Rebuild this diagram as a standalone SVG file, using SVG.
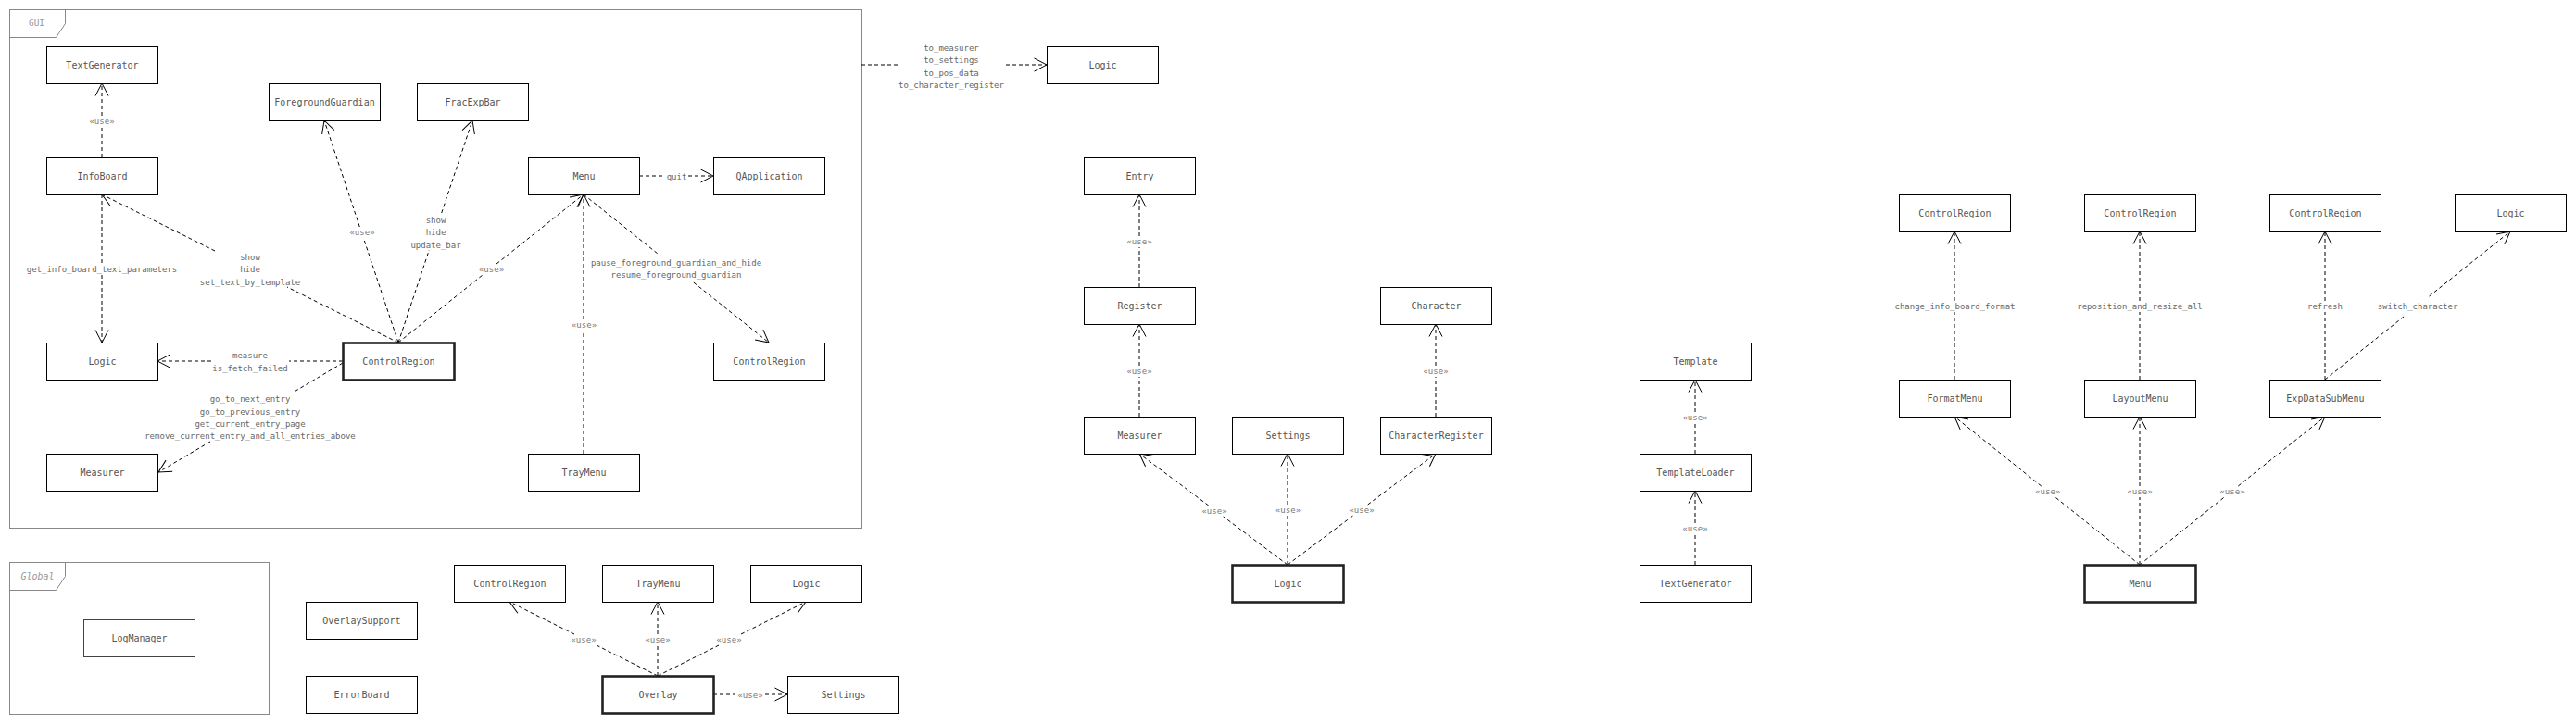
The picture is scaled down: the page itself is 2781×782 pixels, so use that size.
<svg xmlns="http://www.w3.org/2000/svg" width="2781" height="782" viewBox="0 0 2781 782">
<style>
.bg{fill:#fff}
.frame{fill:none;stroke:#888;stroke-width:1}
.ftxt{font-family:"DejaVu Sans Mono","Liberation Mono",monospace;fill:#999}
.box rect{fill:#fff;stroke:#000;stroke-width:1}
.bold rect{fill:#fff;stroke:#222;stroke-width:2.6}
.box text,.bold text{font-family:"DejaVu Sans Mono","Liberation Mono",monospace;font-size:10px;fill:#555;text-anchor:middle}
.edge{fill:none;stroke:#000;stroke-width:1;stroke-dasharray:4,3;marker-end:url(#open)}
.lbl{font-family:"DejaVu Sans Mono","Liberation Mono",monospace;font-size:9px;fill:#666;text-anchor:middle}
.use{fill:#777}
</style>
<defs>
<marker id="open" markerUnits="userSpaceOnUse" viewBox="-15 -10 20 20" refX="0" refY="0" markerWidth="20" markerHeight="20" orient="auto">
<path d="M-13.5 -7 L0 0 L-13.5 7" fill="none" stroke="#000" stroke-width="1"/>
</marker>
</defs>
<rect class="bg" x="0" y="0" width="2781" height="782"/>

<g id="frame-gui">
<rect class="frame" x="10.5" y="10.5" width="920" height="560"/>
<path class="frame" d="M10.5 40.5 H60.5 L70.5 25.5 V10.5"/>
<text class="ftxt" x="39.5" y="28.3" font-size="9.5" text-anchor="middle">GUI</text>
</g>
<g id="frame-global">
<rect class="frame" x="10.5" y="607.5" width="280" height="164"/>
<path class="frame" d="M10.5 637.5 H60.5 L70.5 622.5 V607.5"/>
<text class="ftxt" x="40.5" y="626" font-size="10" font-style="italic" text-anchor="middle">Global</text>
</g>

<g id="connectors">
<path class="edge" d="M110 170 V137 M110 125 V90"/>
<path class="edge" d="M110 210 V285 M110 297 V370"/>
<path class="edge" d="M430 370 L310 310 M232 271 L110 210"/>
<path class="edge" d="M430 370 L392.7 258 M388.3 245 L350 130"/>
<path class="edge" d="M430 370 L463.3 270 M476.7 230 L510 130"/>
<path class="edge" d="M430 370 L521 297 M536 285 L630 210"/>
<path class="edge" d="M630 490 V357 M630 345 V210"/>
<path class="edge" d="M630 210 L712.5 276 M748.75 305 L830 370"/>
<path class="edge" d="M690 190 H718 M743 190 H770"/>
<path class="edge" d="M370 390 H312 M228 390 H170"/>
<path class="edge" d="M370 392 L316 424 M227 477 L171 510"/>
<path class="edge" d="M930 70 H969 M1086 70 H1130"/>
<path class="edge" d="M1230 310 V267 M1230 255 V210"/>
<path class="edge" d="M1230 450 V407 M1230 395 V350"/>
<path class="edge" d="M1550 450 V407 M1550 395 V350"/>
<path class="edge" d="M1390 610 L1320.7 558 M1304.7 546 L1230 490"/>
<path class="edge" d="M1390 610 V557 M1390 545 V490"/>
<path class="edge" d="M1390 610 L1460.7 557 M1476.7 545 L1550 490"/>
<path class="edge" d="M1830 490 V457 M1830 445 V410"/>
<path class="edge" d="M1830 610 V577 M1830 565 V530"/>
<path class="edge" d="M2110 410 V337 M2110 325 V250"/>
<path class="edge" d="M2310 410 V337 M2310 325 V250"/>
<path class="edge" d="M2510 410 V337 M2510 325 V250"/>
<path class="edge" d="M2510 410 L2597.5 340 M2622.5 320 L2710 250"/>
<path class="edge" d="M2310 610 L2218.75 537 M2203.75 525 L2110 450"/>
<path class="edge" d="M2310 610 V537 M2310 525 V450"/>
<path class="edge" d="M2310 610 L2401.25 537 M2416.25 525 L2510 450"/>
<path class="edge" d="M710 730 L644 697 M620 685 L550 650"/>
<path class="edge" d="M710 730 V697 M710 685 V650"/>
<path class="edge" d="M710 730 L776 697 M800 685 L870 650"/>
<path class="edge" d="M770 750 H794 M826 750 H850"/>

<text class="lbl use" x="110" y="134.2">«use»</text>
<text class="lbl" x="110" y="294.2">get_info_board_text_parameters</text>
<text class="lbl" x="270" y="280.9">show</text>
<text class="lbl" x="270" y="294.2">hide</text>
<text class="lbl" x="270" y="307.5">set_text_by_template</text>
<text class="lbl use" x="391" y="254.2">«use»</text>
<text class="lbl" x="470.5" y="240.9">show</text>
<text class="lbl" x="470.5" y="254.2">hide</text>
<text class="lbl" x="470.5" y="267.5">update_bar</text>
<text class="lbl use" x="530.5" y="294.2">«use»</text>
<text class="lbl use" x="630.5" y="354.2">«use»</text>
<text class="lbl" x="730" y="286.9">pause_foreground_guardian_and_hide</text>
<text class="lbl" x="730" y="300.2">resume_foreground_guardian</text>
<text class="lbl" x="730.5" y="193.7">quit</text>
<text class="lbl" x="270" y="387.2">measure</text>
<text class="lbl" x="270" y="400.9">is_fetch_failed</text>
<text class="lbl" x="270" y="434.2">go_to_next_entry</text>
<text class="lbl" x="270" y="447.5">go_to_previous_entry</text>
<text class="lbl" x="270" y="460.9">get_current_entry_page</text>
<text class="lbl" x="270" y="474.2">remove_current_entry_and_all_entries_above</text>
<text class="lbl" x="1027" y="54.9">to_measurer</text>
<text class="lbl" x="1027" y="68.2">to_settings</text>
<text class="lbl" x="1027" y="81.5">to_pos_data</text>
<text class="lbl" x="1027" y="94.8">to_character_register</text>
<text class="lbl use" x="1230" y="264.2">«use»</text>
<text class="lbl use" x="1230" y="404.2">«use»</text>
<text class="lbl use" x="1550" y="404.2">«use»</text>
<text class="lbl use" x="1311" y="555.2">«use»</text>
<text class="lbl use" x="1390.5" y="554.2">«use»</text>
<text class="lbl use" x="1470" y="554.2">«use»</text>
<text class="lbl use" x="1830" y="454.2">«use»</text>
<text class="lbl use" x="1830" y="574.2">«use»</text>
<text class="lbl" x="2110.5" y="334.2">change_info_board_format</text>
<text class="lbl" x="2310" y="334.2">reposition_and_resize_all</text>
<text class="lbl" x="2510" y="334.2">refresh</text>
<text class="lbl" x="2610" y="334.2">switch_character</text>
<text class="lbl use" x="2210.7" y="534.2">«use»</text>
<text class="lbl use" x="2310" y="534.2">«use»</text>
<text class="lbl use" x="2410" y="534.2">«use»</text>
<text class="lbl use" x="630" y="694.2">«use»</text>
<text class="lbl use" x="710" y="694.2">«use»</text>
<text class="lbl use" x="787" y="694.2">«use»</text>
<text class="lbl use" x="810" y="753.9">«use»</text>
</g>

<g id="n_gui_textgen" class="box"><rect x="50.5" y="50.5" width="120" height="40"/><text x="110.5" y="74.1">TextGenerator</text></g>
<g id="n_gui_fg" class="box"><rect x="290.5" y="90.5" width="120" height="40"/><text x="350.5" y="114.1">ForegroundGuardian</text></g>
<g id="n_gui_frac" class="box"><rect x="450.5" y="90.5" width="120" height="40"/><text x="510.5" y="114.1">FracExpBar</text></g>
<g id="n_gui_infoboard" class="box"><rect x="50.5" y="170.5" width="120" height="40"/><text x="110.5" y="194.1">InfoBoard</text></g>
<g id="n_gui_menu" class="box"><rect x="570.5" y="170.5" width="120" height="40"/><text x="630.5" y="194.1">Menu</text></g>
<g id="n_gui_qapp" class="box"><rect x="770.5" y="170.5" width="120" height="40"/><text x="830.5" y="194.1">QApplication</text></g>
<g id="n_gui_logic" class="box"><rect x="50.5" y="370.5" width="120" height="40"/><text x="110.5" y="394.1">Logic</text></g>
<g id="n_gui_cr" class="bold"><rect x="370.5" y="370.5" width="120" height="40"/><text x="430.5" y="394.1">ControlRegion</text></g>
<g id="n_gui_cr2" class="box"><rect x="770.5" y="370.5" width="120" height="40"/><text x="830.5" y="394.1">ControlRegion</text></g>
<g id="n_gui_measurer" class="box"><rect x="50.5" y="490.5" width="120" height="40"/><text x="110.5" y="514.1">Measurer</text></g>
<g id="n_gui_traymenu" class="box"><rect x="570.5" y="490.5" width="120" height="40"/><text x="630.5" y="514.1">TrayMenu</text></g>

<g id="n_logic_ext" class="box"><rect x="1130.5" y="50.5" width="120" height="40"/><text x="1190.5" y="74.1">Logic</text></g>
<g id="n_entry" class="box"><rect x="1170.5" y="170.5" width="120" height="40"/><text x="1230.5" y="194.1">Entry</text></g>
<g id="n_register" class="box"><rect x="1170.5" y="310.5" width="120" height="40"/><text x="1230.5" y="334.1">Register</text></g>
<g id="n_character" class="box"><rect x="1490.5" y="310.5" width="120" height="40"/><text x="1550.5" y="334.1">Character</text></g>
<g id="n_measurer" class="box"><rect x="1170.5" y="450.5" width="120" height="40"/><text x="1230.5" y="474.1">Measurer</text></g>
<g id="n_settings" class="box"><rect x="1330.5" y="450.5" width="120" height="40"/><text x="1390.5" y="474.1">Settings</text></g>
<g id="n_charreg" class="box"><rect x="1490.5" y="450.5" width="120" height="40"/><text x="1550.5" y="474.1">CharacterRegister</text></g>
<g id="n_logic" class="bold"><rect x="1330.5" y="610.5" width="120" height="40"/><text x="1390.5" y="634.1">Logic</text></g>

<g id="n_template" class="box"><rect x="1770.5" y="370.5" width="120" height="40"/><text x="1830.5" y="394.1">Template</text></g>
<g id="n_tloader" class="box"><rect x="1770.5" y="490.5" width="120" height="40"/><text x="1830.5" y="514.1">TemplateLoader</text></g>
<g id="n_textgen" class="box"><rect x="1770.5" y="610.5" width="120" height="40"/><text x="1830.5" y="634.1">TextGenerator</text></g>

<g id="n_m_cr1" class="box"><rect x="2050.5" y="210.5" width="120" height="40"/><text x="2110.5" y="234.1">ControlRegion</text></g>
<g id="n_m_cr2" class="box"><rect x="2250.5" y="210.5" width="120" height="40"/><text x="2310.5" y="234.1">ControlRegion</text></g>
<g id="n_m_cr3" class="box"><rect x="2450.5" y="210.5" width="120" height="40"/><text x="2510.5" y="234.1">ControlRegion</text></g>
<g id="n_m_logic" class="box"><rect x="2650.5" y="210.5" width="120" height="40"/><text x="2710.5" y="234.1">Logic</text></g>
<g id="n_formatmenu" class="box"><rect x="2050.5" y="410.5" width="120" height="40"/><text x="2110.5" y="434.1">FormatMenu</text></g>
<g id="n_layoutmenu" class="box"><rect x="2250.5" y="410.5" width="120" height="40"/><text x="2310.5" y="434.1">LayoutMenu</text></g>
<g id="n_expdata" class="box"><rect x="2450.5" y="410.5" width="120" height="40"/><text x="2510.5" y="434.1">ExpDataSubMenu</text></g>
<g id="n_menu" class="bold"><rect x="2250.5" y="610.5" width="120" height="40"/><text x="2310.5" y="634.1">Menu</text></g>

<g id="n_logmanager" class="box"><rect x="90.5" y="669.5" width="120" height="40" stroke-width="1.6" style="stroke:#444"/><text x="150.5" y="693.1">LogManager</text></g>
<g id="n_overlaysupport" class="box"><rect x="330.5" y="650.5" width="120" height="40"/><text x="390.5" y="674.1">OverlaySupport</text></g>
<g id="n_errorboard" class="box"><rect x="330.5" y="730.5" width="120" height="40"/><text x="390.5" y="754.1">ErrorBoard</text></g>
<g id="n_o_cr" class="box"><rect x="490.5" y="610.5" width="120" height="40"/><text x="550.5" y="634.1">ControlRegion</text></g>
<g id="n_o_tray" class="box"><rect x="650.5" y="610.5" width="120" height="40"/><text x="710.5" y="634.1">TrayMenu</text></g>
<g id="n_o_logic" class="box"><rect x="810.5" y="610.5" width="120" height="40"/><text x="870.5" y="634.1">Logic</text></g>
<g id="n_overlay" class="bold"><rect x="650.5" y="730.5" width="120" height="40"/><text x="710.5" y="754.1">Overlay</text></g>
<g id="n_o_settings" class="box"><rect x="850.5" y="730.5" width="120" height="40"/><text x="910.5" y="754.1">Settings</text></g>
</svg>
